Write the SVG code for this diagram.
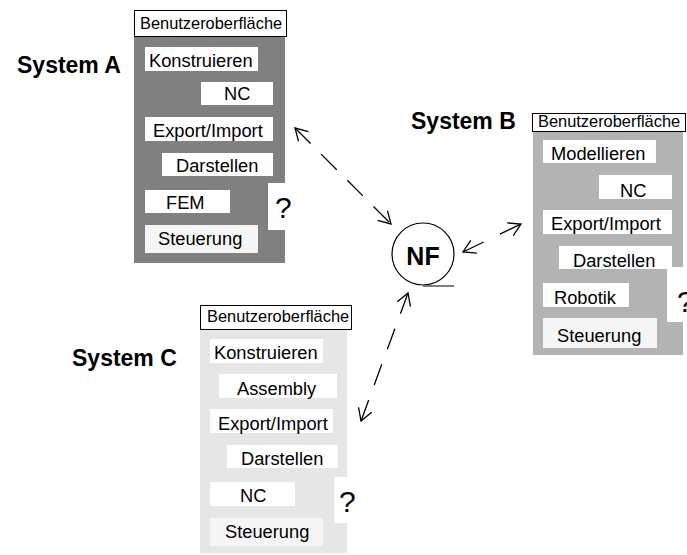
<svg xmlns="http://www.w3.org/2000/svg" width="687" height="555" viewBox="0 0 687 555">
<style>
text{font-family:"Liberation Sans",Arial,sans-serif;fill:#000}
.hdr{fill:#fff;stroke:#000;stroke-width:1}
.hdrt{font-size:16.4px}
.it{fill:#fff}
.st{fill:#f5f5f5}
.t{font-size:18.3px}
.q{font-size:30px}
.lbl{font-size:23px;font-weight:bold}
.conn{fill:none;stroke:#000;stroke-width:1.3}
</style>
<defs>
<marker id="ah" markerUnits="userSpaceOnUse" viewBox="-14 -9 16 18" markerWidth="16" markerHeight="18" refX="0" refY="0" orient="auto-start-reverse">
<path d="M-12,-7 L0,0 L-12,7" fill="none" stroke="#000" stroke-width="1.3"/>
</marker>
</defs>
<rect width="687" height="555" fill="#fff"/>

<g id="systemA">
<text class="lbl" x="17" y="73">System A</text>
<rect x="134" y="37" width="151" height="226" fill="#808080"/>
<rect class="hdr" x="134.5" y="10.5" width="152" height="26"/>
<text class="hdrt" x="140" y="29">Benutzeroberfläche</text>
<rect class="it" x="145" y="47" width="113" height="24"/>
<text class="t" x="149" y="67">Konstruieren</text>
<rect class="it" x="201" y="82" width="72" height="23"/>
<text class="t" x="224" y="100">NC</text>
<rect class="it" x="145" y="117" width="128" height="24"/>
<text class="t" x="153" y="137">Export/Import</text>
<rect class="it" x="162" y="153" width="111" height="23"/>
<text class="t" x="176" y="172">Darstellen</text>
<rect class="it" x="145" y="190" width="85" height="23"/>
<text class="t" x="166" y="209">FEM</text>
<rect class="it" x="268" y="183" width="30" height="47"/>
<text class="q" x="275" y="218">?</text>
<rect class="st" x="145" y="225" width="113" height="28"/>
<text class="t" x="158" y="245">Steuerung</text>
</g>

<g id="systemB">
<text class="lbl" x="411" y="129">System B</text>
<rect x="533" y="132" width="150" height="223" fill="#b3b3b3"/>
<rect class="hdr" x="532.5" y="113.5" width="153" height="18"/>
<text class="hdrt" x="538" y="127">Benutzeroberfläche</text>
<rect class="it" x="543" y="140" width="113" height="23"/>
<text class="t" x="551" y="160">Modellieren</text>
<rect class="it" x="599" y="175" width="73" height="24"/>
<text class="t" x="620" y="197">NC</text>
<rect class="it" x="543" y="210" width="129" height="24"/>
<text class="t" x="551" y="230">Export/Import</text>
<rect class="it" x="559" y="246" width="113" height="23"/>
<text class="t" x="573" y="267">Darstellen</text>
<rect class="it" x="543" y="283" width="86" height="24"/>
<text class="t" x="554" y="304">Robotik</text>
<rect class="it" x="667" y="267" width="30" height="55"/>
<text class="q" x="677" y="312">?</text>
<rect class="st" x="543" y="318" width="114" height="30"/>
<text class="t" x="557" y="342">Steuerung</text>
</g>

<g id="systemC">
<text class="lbl" x="72" y="366">System C</text>
<rect x="200" y="330" width="147" height="223" fill="#e6e6e6"/>
<rect class="hdr" x="200.5" y="305.5" width="151" height="24"/>
<text class="hdrt" x="207" y="322">Benutzeroberfläche</text>
<rect class="it" x="210" y="339" width="113" height="24"/>
<text class="t" x="214" y="359">Konstruieren</text>
<rect class="it" x="219" y="374" width="118" height="24"/>
<text class="t" x="237" y="395">Assembly</text>
<rect class="it" x="210" y="409" width="123" height="24"/>
<text class="t" x="218" y="430">Export/Import</text>
<rect class="it" x="227" y="445" width="111" height="23"/>
<text class="t" x="241" y="465">Darstellen</text>
<rect class="it" x="210" y="482" width="85" height="24"/>
<text class="t" x="240" y="502">NC</text>
<rect class="it" x="334" y="477" width="29" height="46"/>
<text class="q" x="339" y="512">?</text>
<rect class="st" x="210" y="518" width="113" height="28"/>
<text class="t" x="225" y="538">Steuerung</text>
</g>

<g id="NF">
<circle cx="423" cy="254" r="31" fill="#fff" stroke="#000" stroke-width="1.2"/>
<line x1="423" y1="286" x2="454" y2="286" stroke="#555" stroke-width="1.5"/>
<text x="423" y="265" font-size="25" font-weight="bold" text-anchor="middle">NF</text>
</g>

<g id="connectors">
<line class="conn" x1="295" y1="128" x2="391" y2="224" stroke-dasharray="22 15" marker-start="url(#ah)" marker-end="url(#ah)"/>
<line class="conn" x1="463" y1="252" x2="521" y2="224" stroke-dasharray="23 18" marker-start="url(#ah)" marker-end="url(#ah)"/>
<line class="conn" x1="408" y1="293" x2="361" y2="421" stroke-dasharray="22 16" marker-start="url(#ah)" marker-end="url(#ah)"/>
</g>
</svg>
